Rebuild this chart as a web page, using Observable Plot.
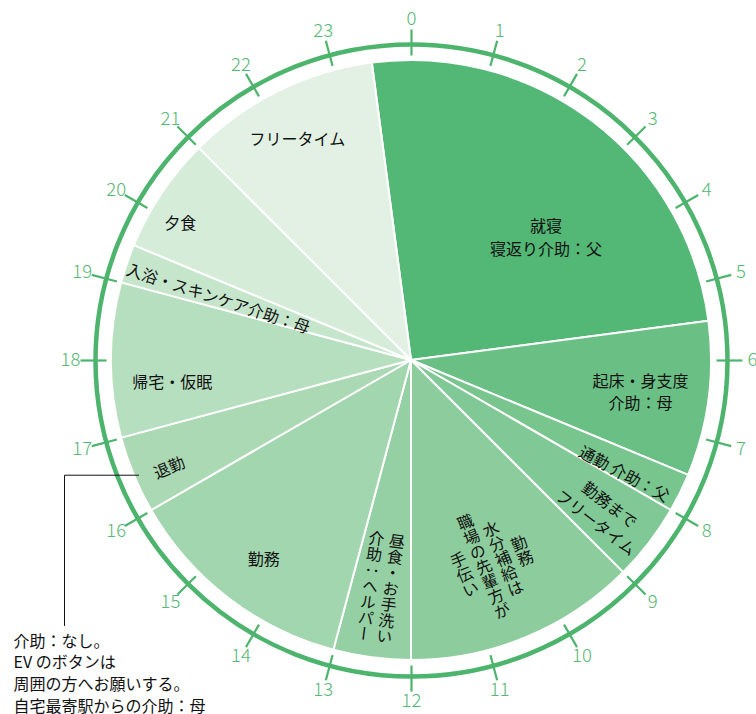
<!DOCTYPE html>
<html><head><meta charset="utf-8">
<script src="https://cdn.jsdelivr.net/npm/d3@7"></script>
<script src="https://cdn.jsdelivr.net/npm/@observablehq/plot@0.6"></script>
<style>
html,body{margin:0;padding:0;background:#fff;}
#chart{width:756px;height:714px;}
svg{font-family:"Noto Sans CJK JP","Noto Sans",sans-serif;}
</style></head><body><div id="chart"></div>
<script>
// ---- data ----
const activities = [
  "就寝\n寝返り介助：父",
  "起床・身支度\n介助：母",
  "通勤 介助：父",
  "勤務まで\nフリータイム",
  "勤務\n水分補給は\n職場の先輩方が\n手伝い",
  "昼食・お手洗い\n介助：ヘルパー",
  "勤務",
  "退勤",
  "帰宅・仮眠",
  "入浴・スキンケア介助：母",
  "夕食",
  "フリータイム"
];
const startHours = [23.5, 5.5, 7.5, 8, 9, 12, 13, 16, 17, 19, 19.5, 21];
const endHours   = [5.5, 7.5, 8, 9, 12, 13, 16, 17, 19, 19.5, 21, 23.5];
const hourTicks = d3.range(0, 24);
const noteText = "介助：なし。\nEV のボタンは\n周囲の方へお願いする。\n自宅最寄駅からの介助：母";

// ---- styles / layout ----
const fillColors = ["#53b776","#6abf84","#78c58e","#80c895","#8dcd9d","#95d0a4","#a1d6ae","#aad9b4","#b6dfbf","#c6e6cc","#d5ecd9","#e3f1e5"];
const labelPlace = [ // [hour, radius, rotate, mode]
  [3.15,183,0,"h"],[6.5,231,0,"h"],[7.85,241,28,"h"],[8.56,245,37.5,"h"],
  [10.53,218,-22.5,"v"],[12.52,229,7.5,"v"],[14.46,246,0,"h"],[16.43,265,-23,"h"],
  [17.68,240,0,"h"],[19.21,203,18,"h"],[20.07,270,0,"h"],[22.19,250,0,"h"]
];
const PIE_R = 300, RING_R = 316, TICK_R1 = 305, TICK_R2 = 331, LABEL_R = 341;
const GREEN = "#4db46d", NUM_GREEN = "#55b874";
const LABEL_FS = 16, V_LH = 1.3;
const polar = (h, r) => [r * Math.sin(h / 24 * 2 * Math.PI), -r * Math.cos(h / 24 * 2 * Math.PI)];

const slices = activities.map((a, i) => ({
  label: a, start: startHours[i], end: endHours[i], color: fillColors[i],
  lh: labelPlace[i][0], lr: labelPlace[i][1], rot: labelPlace[i][2], mode: labelPlace[i][3]
}));

const sliceMark = (index, scales) => {
  const {x, y} = scales;
  const cx = x(0), cy = y(0);
  const r = x(PIE_R) - x(0);
  const arc = d3.arc().innerRadius(0).outerRadius(r);
  const g = d3.create("svg:g");
  g.selectAll("path").data(slices).join("path")
    .attr("transform", `translate(${cx},${cy})`)
    .attr("d", d => arc({startAngle: d.start / 24 * 2 * Math.PI,
      endAngle: (d.end < d.start ? d.end + 24 : d.end) / 24 * 2 * Math.PI}))
    .attr("fill", d => d.color)
    .attr("stroke", "white").attr("stroke-width", 2).attr("stroke-linejoin", "round");
  return g.node();
};

const anchor = polar(16.48, 296);
const ELBOW_X = -347, NOTE_BOTTOM = 265;
const notePath = [
  {x: anchor[0], y: anchor[1]},
  {x: ELBOW_X, y: anchor[1]},
  {x: ELBOW_X, y: NOTE_BOTTOM}
];

const hText = slices.filter(d => d.mode === "h");
const vText = slices.filter(d => d.mode === "v");

const plot = Plot.plot({
  width: 756, height: 714, margin: 0,
  x: {domain: [-411, 345], range: [0, 756], axis: null},
  y: {domain: [-360, 354], range: [0, 714], axis: null},
  style: {fontFamily: '"Noto Sans CJK JP","Noto Sans",sans-serif', background: "white"},
  marks: [
    sliceMark,
    Plot.dot([{x: 0, y: 0}], {x: "x", y: "y", r: RING_R, fill: "none", stroke: GREEN, strokeWidth: 4.5}),
    Plot.link(hourTicks, {
      x1: h => polar(h, TICK_R1)[0], y1: h => polar(h, TICK_R1)[1],
      x2: h => polar(h, TICK_R2)[0], y2: h => polar(h, TICK_R2)[1],
      stroke: GREEN, strokeWidth: 2.2
    }),
    Plot.text(hourTicks, {
      x: h => polar(h, LABEL_R)[0], y: h => polar(h, LABEL_R)[1],
      text: h => String(h), fill: NUM_GREEN, fontSize: 18.5, fontWeight: 300
    }),
    Plot.text(hText, {
      x: d => polar(d.lh, d.lr)[0], y: d => polar(d.lh, d.lr)[1],
      text: "label", rotate: "rot", fontSize: LABEL_FS, lineHeight: 1.42, fill: "#111"
    }),
    Plot.text(vText, {
      x: d => polar(d.lh, d.lr)[0], y: d => polar(d.lh, d.lr)[1],
      text: "label", rotate: "rot", fontSize: LABEL_FS, lineHeight: V_LH, fill: "#111"
    }),
    Plot.line(notePath, {x: "x", y: "y", stroke: "#111", strokeWidth: 1}),
    Plot.text([noteText], {
      x: ELBOW_X - 51, y: NOTE_BOTTOM + 6, text: d => d,
      textAnchor: "start", lineAnchor: "top", fontSize: 16, lineHeight: 1.35, fill: "#111"
    })
  ]
});

// vertical writing for the vertical labels
const vSet = new Set(vText.map(d => d.label.replace(/\n/g, "")));
plot.querySelectorAll("text").forEach(t => {
  if (!vSet.has(t.textContent)) return;
  const spans = Array.from(t.querySelectorAll("tspan"));
  const n = spans.length;
  const lh = LABEL_FS * V_LH;
  t.setAttribute("writing-mode", "vertical-rl");
  t.style.writingMode = "vertical-rl";
  t.setAttribute("text-anchor", "middle");
  t.removeAttribute("y"); t.removeAttribute("dy");
  spans.forEach((s, i) => {
    s.setAttribute("x", ((n - 1) / 2 - i) * lh);
    s.setAttribute("y", 0);
    s.removeAttribute("dy");
  });
});

document.getElementById("chart").appendChild(plot);
</script>
</body></html>
